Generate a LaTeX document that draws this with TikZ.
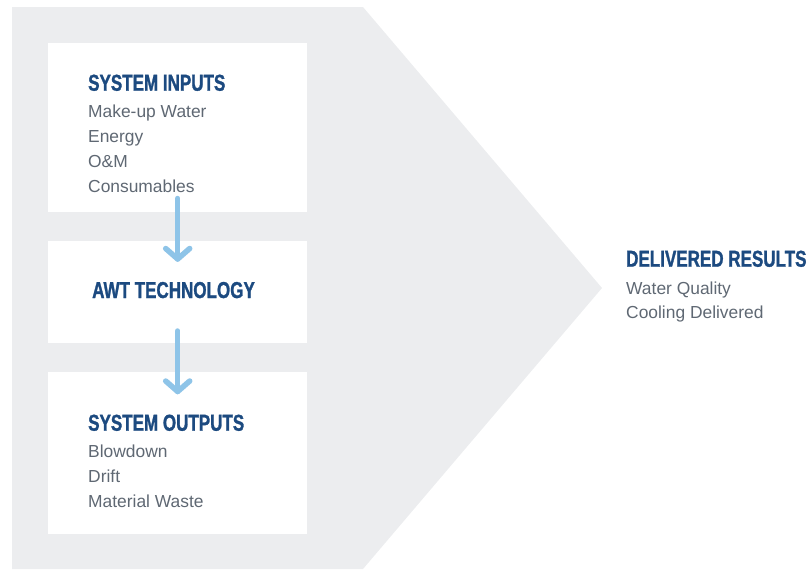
\documentclass[tikz,border=0pt]{standalone}
\usepackage{fontspec}
\usetikzlibrary{calc}
\setmainfont{Liberation Sans}
\newfontfamily\titlefont[FakeStretch=0.74,FakeBold=1.2]{Liberation Sans}
\definecolor{bggray}{HTML}{ECEDEF}
\definecolor{arrowblue}{HTML}{8EC4E8}
\definecolor{titleblue}{HTML}{1C4A80}
\definecolor{bodygray}{HTML}{5F6873}
\tikzset{
  whitebox/.style={fill=white, draw=none, inner sep=0pt, anchor=north west},
  titletext/.style={anchor=base west, inner sep=0pt, text=titleblue, font=\titlefont\bfseries\fontsize{23}{26}\selectfont},
  bodytext/.style={anchor=base west, inner sep=0pt, text=bodygray, font=\fontsize{17.4}{20}\selectfont},
  flowline/.style={draw=arrowblue, line width=5.5pt, line cap=round, line join=round}
}
\begin{document}
\begin{tikzpicture}[x=1pt, y=-1pt]
\useasboundingbox (0,0) rectangle (810,571);
% background chevron
\fill[bggray] (12,7) -- (363,7) -- (602,288) -- (363,569) -- (12,569) -- cycle;
% boxes
\node[whitebox, minimum width=259pt, minimum height=169pt] (boxin) at (48,43) {};
\node[whitebox, minimum width=259pt, minimum height=102pt] (boxtech) at (48,241) {};
\node[whitebox, minimum width=259pt, minimum height=162pt] (boxout) at (48,372) {};
% texts
\node[titletext] (tin) at (88,90.7) {SYSTEM INPUTS};
\node[bodytext] (in1) at (88,117.3) {Make-up Water};
\node[bodytext] (in2) at (88,142) {Energy};
\node[bodytext] (in3) at (88,167) {O\&M};
\node[bodytext] (in4) at (88,192.3) {Consumables};
\node[titletext] (ttech) at (92,298) {AWT TECHNOLOGY};
\node[titletext] (tout) at (88,430.7) {SYSTEM OUTPUTS};
\node[bodytext] (out1) at (88,457.5) {Blowdown};
\node[bodytext] (out2) at (88,482.3) {Drift};
\node[bodytext] (out3) at (88,507.3) {Material Waste};
\node[titletext] (tres) at (626,266.7) {DELIVERED RESULTS};
\node[bodytext] (res1) at (626,294.3) {Water Quality};
\node[bodytext] (res2) at (626,318.3) {Cooling Delivered};
% arrows
\coordinate (a1s) at (177.7,198.5);
\coordinate (a1e) at (177.7,259);
\coordinate (a2s) at (177.7,331);
\coordinate (a2e) at (177.7,391.5);
\draw[flowline] (a1s) -- (a1e);
\draw[flowline] ($(a1e)+(-12,-10.5)$) -- (a1e) -- ($(a1e)+(12,-10.5)$);
\draw[flowline] (a2s) -- (a2e);
\draw[flowline] ($(a2e)+(-12,-10.5)$) -- (a2e) -- ($(a2e)+(12,-10.5)$);
\end{tikzpicture}
\end{document}
